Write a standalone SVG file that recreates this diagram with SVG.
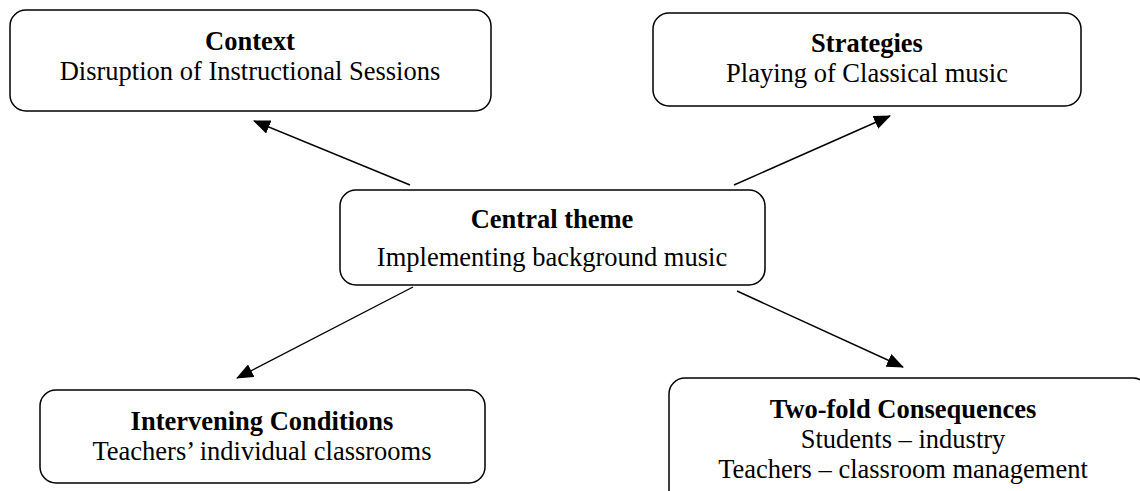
<svg xmlns="http://www.w3.org/2000/svg" width="1140" height="491" viewBox="0 0 1140 491">
<style>
.box{fill:#fff;stroke:#000;stroke-width:1.5}
.t{font-family:"Liberation Serif","Times New Roman",serif;font-size:26.5px;fill:#000;text-anchor:middle}
.b{font-weight:bold}
.c{stroke:#000;stroke-width:1.4;fill:none}
</style>
<defs>
<marker id="ah" markerUnits="userSpaceOnUse" markerWidth="18" markerHeight="14" refX="16" refY="7" orient="auto">
<path d="M0,0 L17,7 L0,14 Z" fill="#000"/>
</marker>
</defs>
<rect width="1140" height="491" fill="#fff"/>
<g id="connectors">
<line class="c" x1="410" y1="185" x2="254" y2="121" marker-end="url(#ah)"/>
<line class="c" x1="734" y1="185" x2="890" y2="116" marker-end="url(#ah)"/>
<line class="c" x1="413" y1="287" x2="237" y2="378" marker-end="url(#ah)"/>
<line class="c" x1="737" y1="291" x2="903" y2="367" marker-end="url(#ah)"/>
</g>
<g id="context">
<rect class="box" x="10" y="10" width="481" height="101" rx="16"/>
<text class="t b" x="250" y="50">Context</text>
<text class="t" x="250" y="80">Disruption of Instructional Sessions</text>
</g>
<g id="strategies">
<rect class="box" x="653" y="13" width="428" height="93" rx="16"/>
<text class="t b" x="867" y="52">Strategies</text>
<text class="t" x="867" y="82">Playing of Classical music</text>
</g>
<g id="central">
<rect class="box" x="340" y="190" width="425" height="95" rx="16"/>
<text class="t b" x="552" y="228">Central theme</text>
<text class="t" x="552" y="266">Implementing background music</text>
</g>
<g id="intervening">
<rect class="box" x="40" y="390" width="445" height="93" rx="16"/>
<text class="t b" x="262" y="430">Intervening Conditions</text>
<text class="t" x="262" y="460">Teachers’ individual classrooms</text>
</g>
<g id="consequences">
<rect class="box" x="669" y="378" width="480" height="130" rx="16"/>
<text class="t b" x="903" y="418">Two-fold Consequences</text>
<text class="t" x="903" y="448">Students – industry</text>
<text class="t" x="903" y="478">Teachers – classroom management</text>
</g>
</svg>
